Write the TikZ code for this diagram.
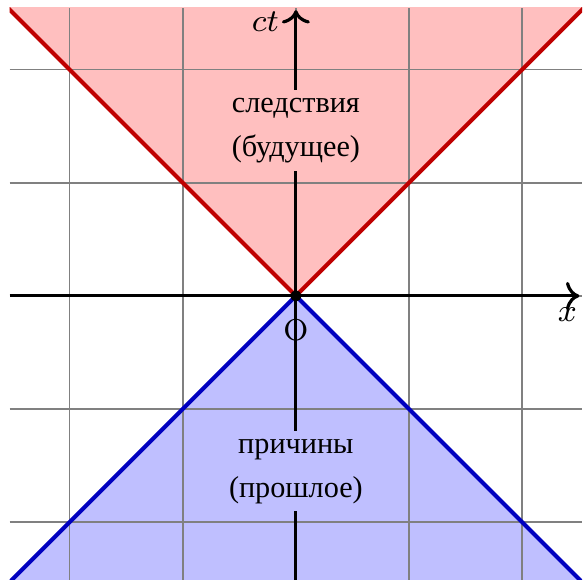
\documentclass[tikz,border=0pt]{standalone}
\usepackage{fontspec}
\newfontfamily\cyrfont{Liberation Serif}
\usetikzlibrary{arrows.meta,positioning}

\begin{document}
\begin{tikzpicture}[
  gridline/.style={gray, line width=0.4pt},
  cone/.style={line width=1pt},
  axis/.style={thick, ->},
  region/.style={fill=#1!25, align=center, inner sep=2pt,
    font=\cyrfont\fontsize{7.6}{11}\selectfont},
  font=\fontsize{7.6}{9}\selectfont
]
\useasboundingbox (-2.615,-2.555) rectangle (2.53,2.615);

% -------- Conos (futuro y pasado) --------
\coordinate (O) at (0,0);
\coordinate (tl) at (-2.53,2.545);
\coordinate (tr) at (2.53,2.545);
\coordinate (bl) at (-2.53,-2.51);
\coordinate (br) at (2.53,-2.51);

\begin{scope}
  \clip (bl) rectangle (tr);
  \fill[red!25] (O) -- (-3,3) -- (3,3) -- cycle;
  \fill[blue!25] (O) -- (-3,-3) -- (3,-3) -- cycle;
  \draw[gridline] (bl) grid (tr);
  \draw[cone, red!75!black] (-3,3) -- (O) -- (3,3);
  \draw[cone, blue!75!black] (-3,-3) -- (O) -- (3,-3);
\end{scope}

% -------- Ejes --------
\coordinate (xa) at (-2.53,0);
\coordinate (xb) at (2.505,0);
\coordinate (ya) at (0,-2.51);
\coordinate (yb) at (0,2.525);
\draw[axis] (xa) -- (xb);
\draw[axis] (ya) -- (yb);

\node (ct) at (-0.27,2.42) {$ct$};
\node (x) at (2.40,-0.17) {$x$};

% Origen
\node[circle, fill=black, inner sep=1pt] (o) at (O) {};
\node (olbl) at (0,-0.30) {O};

% -------- Regiones --------
\node[region=red] (fut) at (0,1.46) {следствия\\(будущее)};
\node[region=blue] (past) at (0,-1.55) {причины\\(прошлое)};

\end{tikzpicture}
\end{document}
